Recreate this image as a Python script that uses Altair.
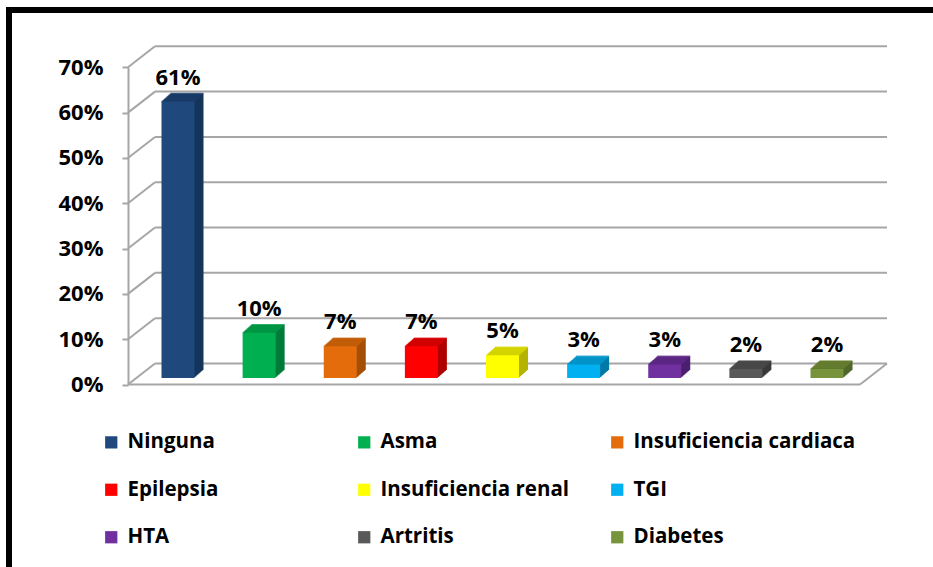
import altair as alt
import pandas as pd

# Chronic conditions reported, share of respondents (%)
categories = [
    "Ninguna", "Asma", "Insuficiencia cardiaca", "Epilepsia",
    "Insuficiencia renal", "TGI", "HTA", "Artritis", "Diabetes",
]
percent = [61, 10, 7, 7, 5, 3, 3, 2, 2]
y_ticks = [0, 10, 20, 30, 40, 50, 60, 70]

# Palette: front face, top face and side face of each 3-D column
front_colors = ["#1F497D", "#00B050", "#E46C0A", "#FF0000", "#FFFF00",
                "#00B0F0", "#7030A0", "#595959", "#77933C"]
top_colors = ["#1A3D69", "#009A46", "#C85F08", "#D90000", "#DADA00",
              "#0098CF", "#5F2889", "#4B4B4B", "#66802F"]
side_colors = ["#15345A", "#007A38", "#A44E06", "#AE0000", "#B3B300",
               "#0079A6", "#4C1F6E", "#393939", "#51662A"]

FONT = "Open Sans"
GRID = "#A6A6A6"

bars = pd.DataFrame({"cat": categories, "pct": percent})
bars["label"] = bars["pct"].astype(str) + "%"
ticks = pd.DataFrame({"tick": y_ticks})

# Scales: y is the front plane of the 3-D box, x places the column centres
y_scale = alt.Scale(domain=[0, 70], range=[384.5, 67.3], nice=False, zero=True)
x_scale = alt.Scale(type="point", domain=categories, range=[50, 699], padding=0)

# depth of the box walls and of each column (pixels)
WALL_DX, WALL_DY = 26, -21
COL_DX, COL_DY, COL_SHIFT = 9, -8, -6.5
STEPS = 9


def xenc():
    return alt.X("cat:N", scale=x_scale, axis=None, sort=categories)


def color_enc(colors, legend=None):
    return alt.Color("cat:N", scale=alt.Scale(domain=categories, range=colors),
                     legend=legend, sort=categories)


# back wall gridlines
back_grid = alt.Chart(ticks).mark_rule(color=GRID, strokeWidth=2, yOffset=WALL_DY).encode(
    y=alt.Y("tick:Q", scale=y_scale, title=None,
            axis=alt.Axis(values=y_ticks, labelExpr="datum.value + '%'", grid=False,
                          domainColor=GRID, domainWidth=2, tickColor=GRID,
                          tickWidth=2, tickSize=6, labelPadding=19,
                          labelFont=FONT, labelFontSize=22, labelFontWeight="bold",
                          labelColor="#000000")),
    x=alt.value(WALL_DX + 1),
    x2=alt.value(759),
)

# side wall diagonals
wall_diag = alt.Chart(ticks).mark_rule(color=GRID, strokeWidth=2, y2Offset=WALL_DY).encode(
    y=alt.Y("tick:Q", scale=y_scale, title=None),
    y2="tick:Q",
    x=alt.value(0),
    x2=alt.value(WALL_DX + 1),
)

# floor front edge and right-hand diagonal
floor_front = alt.Chart(ticks).transform_filter("datum.tick == 0").mark_rule(
    color=GRID, strokeWidth=2).encode(
    y=alt.Y("tick:Q", scale=y_scale, title=None),
    x=alt.value(0),
    x2=alt.value(732),
)
floor_diag = alt.Chart(ticks).transform_filter("datum.tick == 0").mark_rule(
    color=GRID, strokeWidth=2, y2Offset=WALL_DY).encode(
    y=alt.Y("tick:Q", scale=y_scale, title=None),
    y2="tick:Q",
    x=alt.value(732),
    x2=alt.value(732 + WALL_DX + 1),
)

layers = [back_grid, wall_diag, floor_front, floor_diag]

# extruded body of each column (side face)
for i in range(1, STEPS + 1):
    dx = COL_DX * i / STEPS
    dy = COL_SHIFT + COL_DY * i / STEPS
    layers.append(
        alt.Chart(bars).mark_bar(width=33, xOffset=dx, yOffset=dy, y2Offset=dy).encode(
            x=xenc(),
            y=alt.Y("pct:Q", scale=y_scale, title=None),
            y2=alt.datum(0),
            color=color_enc(side_colors),
        )
    )

# top face
for i in range(0, STEPS + 1):
    dx = COL_DX * i / STEPS
    dy = COL_SHIFT + COL_DY * i / STEPS
    layers.append(
        alt.Chart(bars).mark_tick(orient="horizontal", size=33, thickness=1.6,
                                  xOffset=dx, yOffset=dy).encode(
            x=xenc(),
            y=alt.Y("pct:Q", scale=y_scale, title=None),
            color=color_enc(top_colors),
        )
    )

# front face with the legend
front = alt.Chart(bars).mark_bar(width=33, yOffset=COL_SHIFT, y2Offset=COL_SHIFT).encode(
    x=xenc(),
    y=alt.Y("pct:Q", scale=y_scale, title=None),
    y2=alt.datum(0),
    color=color_enc(front_colors, alt.Legend(
        orient="none", legendX=-27, legendY=432, columns=3, direction="horizontal",
        gridAlign="all", columnPadding=4, rowPadding=26.5, symbolType="square",
        symbolSize=150, symbolStrokeWidth=0, labelFont=FONT, labelFontSize=20.5,
        labelFontWeight="bold", labelColor="#000000", labelOffset=6,
        labelLimit=400, title=None, padding=0)),
)
layers.append(front)

labels = alt.Chart(bars).mark_text(
    font=FONT, fontSize=22, fontWeight="bold", color="#000000",
    baseline="alphabetic", align="center", dy=COL_SHIFT + COL_DY - 9,
).encode(
    x=xenc(),
    y=alt.Y("pct:Q", scale=y_scale, title=None),
    text="label:N",
)
layers.append(labels)

# black frame along the top and left edges
frame_top = alt.Chart(ticks).transform_filter("datum.tick == 0").mark_rule(
    color="#000000", strokeWidth=6).encode(
    x=alt.value(-122), x2=alt.value(810), y=alt.value(10))
frame_left = alt.Chart(ticks).transform_filter("datum.tick == 0").mark_rule(
    color="#000000", strokeWidth=6).encode(
    x=alt.value(-119), y=alt.value(7), y2=alt.value(570))
layers += [frame_top, frame_left]

chart = alt.layer(*layers).resolve_scale(color="independent").properties(
    width=805, height=567,
    autosize=alt.AutoSizeParams(type="none"),
    padding={"left": 128, "top": 0, "right": 0, "bottom": 0},
    background="#FFFFFF",
).configure_view(stroke=None)

chart.save("out.html", embed_options={"renderer": "svg", "actions": False})
